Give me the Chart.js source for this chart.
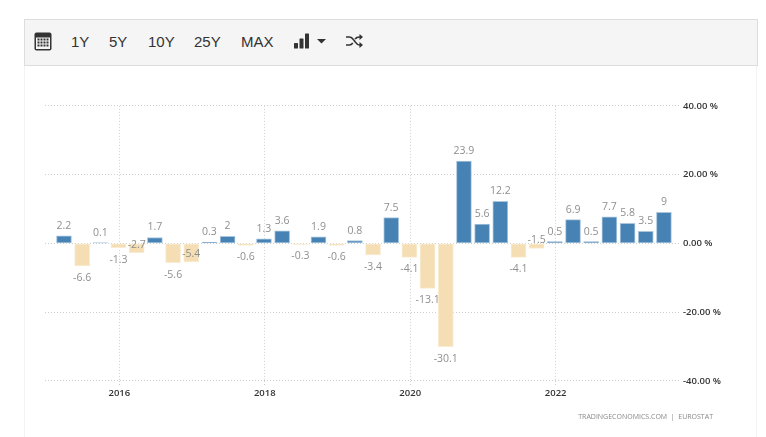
<!DOCTYPE html>
<html>
<head>
<meta charset="utf-8">
<title>Eurostat chart</title>
<script src="https://cdn.jsdelivr.net/npm/chart.js@4"></script>
<style>
    html, body { margin: 0; padding: 0; background: #fff; overflow: hidden; }
    #wrap { position: relative; width: 766px; height: 437px; }
    #chart { position: absolute; left: 0; top: 0; }
    #frame { position: absolute; left: 24px; top: 65px; width: 733px; height: 372px; border-left: 1px solid #f4f4f4; border-right: 1px solid #f4f4f4; box-sizing: border-box; }
    #toolbar { position: absolute; left: 24px; top: 19px; width: 734px; height: 47px; box-sizing: border-box; background: #f5f5f5; border: 1px solid #ddd; }
    #toolbar span { position: absolute; top: 12px; font: 15px/20px "Liberation Sans", sans-serif; color: #333; }
    #toolbar svg { position: absolute; }
    #source { position: absolute; right: 53px; top: 412px; font: 7px/10px "Open Sans", sans-serif; color: #888; white-space: pre; }
</style>
</head>
<body>
<div id="wrap">
    <div id="frame"></div>
    <canvas id="chart" width="766" height="437"></canvas>
    <div id="toolbar">
        <svg style="left:9px;top:12px" width="18" height="19" viewBox="0 0 18 19">
            <rect x="0.5" y="0.5" width="17" height="18" rx="2" fill="#333"/>
            <rect x="2" y="5.5" width="14" height="11.5" fill="#f5f5f5"/>
            <path d="M3.5 7.5h11M3.5 10.5h11M3.5 13.5h11" stroke="#333" stroke-width="2" stroke-dasharray="2 1"/>
        </svg>
        <span style="left:46px">1Y</span>
        <span style="left:84px">5Y</span>
        <span style="left:123px">10Y</span>
        <span style="left:169px">25Y</span>
        <span style="left:216px">MAX</span>
        <svg style="left:269px;top:13px" width="34" height="16" viewBox="0 0 34 16">
            <rect x="0" y="10" width="4" height="5.5" rx="0.5" fill="#333"/>
            <rect x="5.5" y="5.5" width="4" height="10" rx="0.5" fill="#333"/>
            <rect x="11" y="0.5" width="4" height="15" rx="0.5" fill="#333"/>
            <path d="M23 6h9l-4.5 4.5z" fill="#333"/>
        </svg>
        <svg style="left:321px;top:14px" width="17" height="14" viewBox="0 0 17 14">
            <path d="M0 3h3.5c2.5 0 3.5 2 5 4s2.500 4 5 4h1.500M0 11h3.500c1.500 0 2.500-1 3.300-2M9 5c.8-1 2-2 4.500-2h1.500" fill="none" stroke="#333" stroke-width="1.700"/>
            <path d="M13.500 0l3.500 3-3.500 3zM13.500 8l3.500 3-3.500 3z" fill="#333"/>
        </svg>
    </div>
    <div id="source">TRADINGECONOMICS.COM  |  EUROSTAT</div>
</div>
<script>
const categories = [
    '2015-Q1', '2015-Q2', '2015-Q3', '2015-Q4',
    '2016-Q1', '2016-Q2', '2016-Q3', '2016-Q4',
    '2017-Q1', '2017-Q2', '2017-Q3', '2017-Q4',
    '2018-Q1', '2018-Q2', '2018-Q3', '2018-Q4',
    '2019-Q1', '2019-Q2', '2019-Q3', '2019-Q4',
    '2020-Q1', '2020-Q2', '2020-Q3', '2020-Q4',
    '2021-Q1', '2021-Q2', '2021-Q3', '2021-Q4',
    '2022-Q1', '2022-Q2', '2022-Q3', '2022-Q4',
    '2023-Q1', '2023-Q2'
];
const values = [
    2.2, -6.6, 0.1, -1.3,
    -2.7, 1.7, -5.6, -5.4,
    0.3, 2, -0.6, 1.3,
    3.6, -0.3, 1.9, -0.6,
    0.8, -3.4, 7.5, -4.1,
    -13.1, -30.1, 23.9, 5.6,
    12.2, -4.1, -1.5, 0.5,
    6.9, 0.5, 7.7, 5.8,
    3.5, 9
];
const yearTicks = [2016, 2018, 2020, 2022];
const valueTicks = [-40, -20, 0, 20, 40];

// quarter end as a decimal year, bars sit just left of the year gridline
function quarterToYear(label) {
    const [year, quarter] = label.split('-Q');
    return Number(year) + Number(quarter) / 4 - 0.011;
}

// labels the original moved up out of the way of their neighbours
const raisedLabels = [4, 7, 26];

const barLabels = {
    id: 'barLabels',
    afterDatasetsDraw(chart) {
        const { ctx } = chart;
        const bars = chart.getDatasetMeta(0).data;
        ctx.save();
        ctx.font = '10.5px "Open Sans"';
        ctx.fillStyle = '#8f8f8f';
        ctx.textAlign = 'center';
        ctx.textBaseline = 'middle';
        bars.forEach((bar, i) => {
            const v = values[i];
            let y = v >= 0 ? bar.y - 10 : bar.y + 12;
            if (raisedLabels.includes(i)) y -= 20;
            ctx.fillText(String(v), bar.x, y);
        });
        ctx.restore();
    }
};

new Chart(document.getElementById('chart'), {
    type: 'bar',
    data: {
        datasets: [{
            data: categories.map((c, i) => ({ x: quarterToYear(c), y: values[i] })),
            backgroundColor: values.map(v => v >= 0 ? '#4682b4' : '#f5deb3'),
            borderColor: values.map(v => v >= 0 ? '#a9c6de' : '#f9ecd2'),
            borderWidth: 1,
            barThickness: 15,
            borderSkipped: false
        }]
    },
    options: {
        responsive: false,
        animation: false,
        layout: { padding: { left: 45, top: 105.8, right: 0, bottom: 0 } },
        plugins: { legend: { display: false }, tooltip: { enabled: false } },
        scales: {
            x: {
                type: 'linear',
                offset: false,
                min: 2014.978,
                max: 2023.71,
                afterBuildTicks: axis => { axis.ticks = yearTicks.map(value => ({ value })); },
                afterFit: axis => { axis.height = 56.2; },
                border: { display: false, dash: [1, 2] },
                grid: { offset: false, color: '#cfcfcf', tickLength: 5, tickColor: '#cfcfcf', tickBorderDash: [1, 2] },
                ticks: {
                    autoSkip: false,
                    maxRotation: 0,
                    padding: 2,
                    color: '#333',
                    font: { family: '"Open Sans"', size: 9.5, weight: '600' },
                    callback: v => String(v)
                }
            },
            y: {
                position: 'right',
                min: -40,
                max: 40,
                afterBuildTicks: axis => { axis.ticks = valueTicks.map(value => ({ value })); },
                afterFit: axis => { axis.width = 86; },
                border: { display: false, dash: [1, 2] },
                grid: { color: '#cfcfcf', drawTicks: false },
                ticks: {
                    padding: 3,
                    color: '#333',
                    font: { family: '"Open Sans"', size: 9.5, weight: '600' },
                    callback: v => v.toFixed(2) + ' %'
                }
            }
        }
    },
    plugins: [barLabels]
});
</script>
</body>
</html>
